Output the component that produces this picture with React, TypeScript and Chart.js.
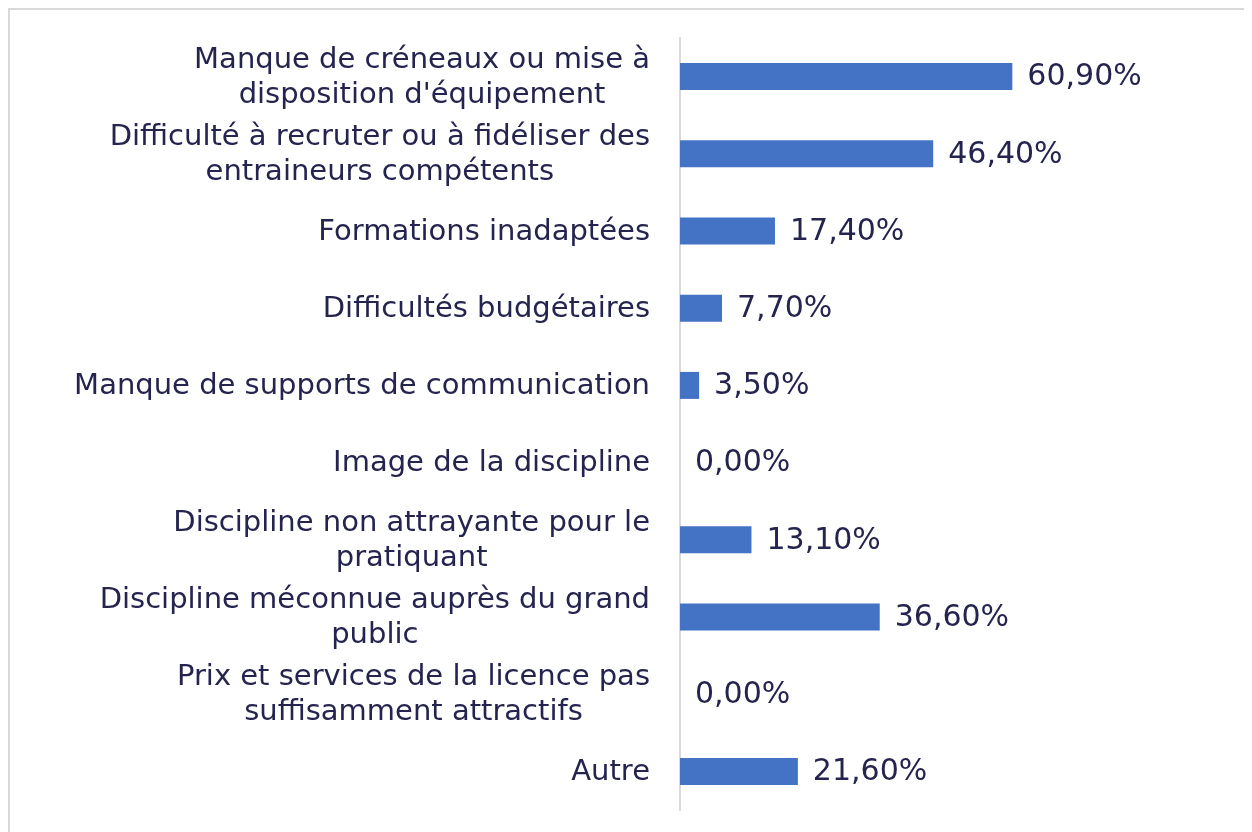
import React, { useEffect, useRef } from "react";
import { Chart, registerables } from "chart.js";

Chart.register(...registerables);

const categories: (string | string[])[] = [
  ["Manque de créneaux ou mise à", "disposition d'équipement"],
  ["Difficulté à recruter ou à fidéliser des", "entraineurs compétents"],
  "Formations inadaptées",
  "Difficultés budgétaires",
  "Manque de supports de communication",
  "Image de la discipline",
  ["Discipline non attrayante pour le", "pratiquant"],
  ["Discipline méconnue auprès du grand", "public"],
  ["Prix et services de la licence pas", "suffisamment attractifs"],
  "Autre",
];

const values: number[] = [60.9, 46.4, 17.4, 7.7, 3.5, 0.0, 13.1, 36.6, 0.0, 21.6];

const axisMax = 70;

const TEXT_COLOR = "#25244f";
const TICK_FONT = "29px 'DejaVu Sans', Verdana, sans-serif";
const VALUE_FONT = "30px 'DejaVu Sans', Verdana, sans-serif";

const fmt = (v: number) => v.toFixed(2).replace(".", ",") + "%";

const labelsPlugin = {
  id: "customLabels",
  afterDraw(chart: any) {
    const ctx = chart.ctx;
    const yScale = chart.scales.y;
    const area = chart.chartArea;
    ctx.save();
    ctx.font = TICK_FONT;
    ctx.fillStyle = TEXT_COLOR;
    ctx.textBaseline = "middle";
    ctx.textAlign = "center";
    const lineH = 35;
    categories.forEach((cat, i) => {
      const lines = Array.isArray(cat) ? cat : [cat];
      const y = yScale.getPixelForValue(i);
      const maxW = Math.max(...lines.map((l) => ctx.measureText(l).width));
      const cx = area.left - 30 - maxW / 2;
      lines.forEach((l, j) => {
        ctx.fillText(l, cx, y + (j - (lines.length - 1) / 2) * lineH + 1);
      });
    });
    // data labels
    const meta = chart.getDatasetMeta(0);
    ctx.font = VALUE_FONT;
    ctx.textAlign = "left";
    meta.data.forEach((bar: any, i: number) => {
      ctx.fillText(fmt(values[i]), bar.x + 15, bar.y + 1);
    });
    ctx.restore();
  },
};

export default function App() {
  const ref = useRef<HTMLCanvasElement | null>(null);
  useEffect(() => {
    document.documentElement.style.overflow = "hidden";
    document.body.style.overflow = "hidden";
    if (!ref.current) return;
    const chart = new Chart(ref.current, {
      type: "bar",
      data: {
        labels: categories.map((c) => (Array.isArray(c) ? c.join(" ") : c)),
        datasets: [
          {
            data: values,
            backgroundColor: "#4472C4",
            borderWidth: 0,
            categoryPercentage: 0.7,
            barPercentage: 0.5,
          },
        ],
      },
      options: {
        indexAxis: "y",
        responsive: false,
        animation: false,
        devicePixelRatio: 1,
        layout: { padding: { left: 0, right: 190, top: 28, bottom: 22 } },
        plugins: {
          legend: { display: false },
          tooltip: { enabled: false },
        },
        scales: {
          x: {
            display: false,
            min: 0,
            max: axisMax,
          },
          y: {
            grid: { display: false },
            border: { display: true, color: "#d9d9d9", width: 2 },
            ticks: { display: false },
            afterFit: (s: any) => {
              s.width = 670;
            },
          },
        },
      },
      plugins: [labelsPlugin],
    });
    return () => chart.destroy();
  }, []);
  return (
    <div style={{ width: 1252, height: 824, overflow: "hidden", background: "#fff" }}>
      <div
        style={{
          width: 1270,
          height: 850,
          boxSizing: "border-box",
          border: "2px solid #d9d9d9",
          background: "#fff",
        }}
      >
        <canvas ref={ref} width={1242} height={822} style={{ display: "block" }} />
      </div>
    </div>
  );
}
